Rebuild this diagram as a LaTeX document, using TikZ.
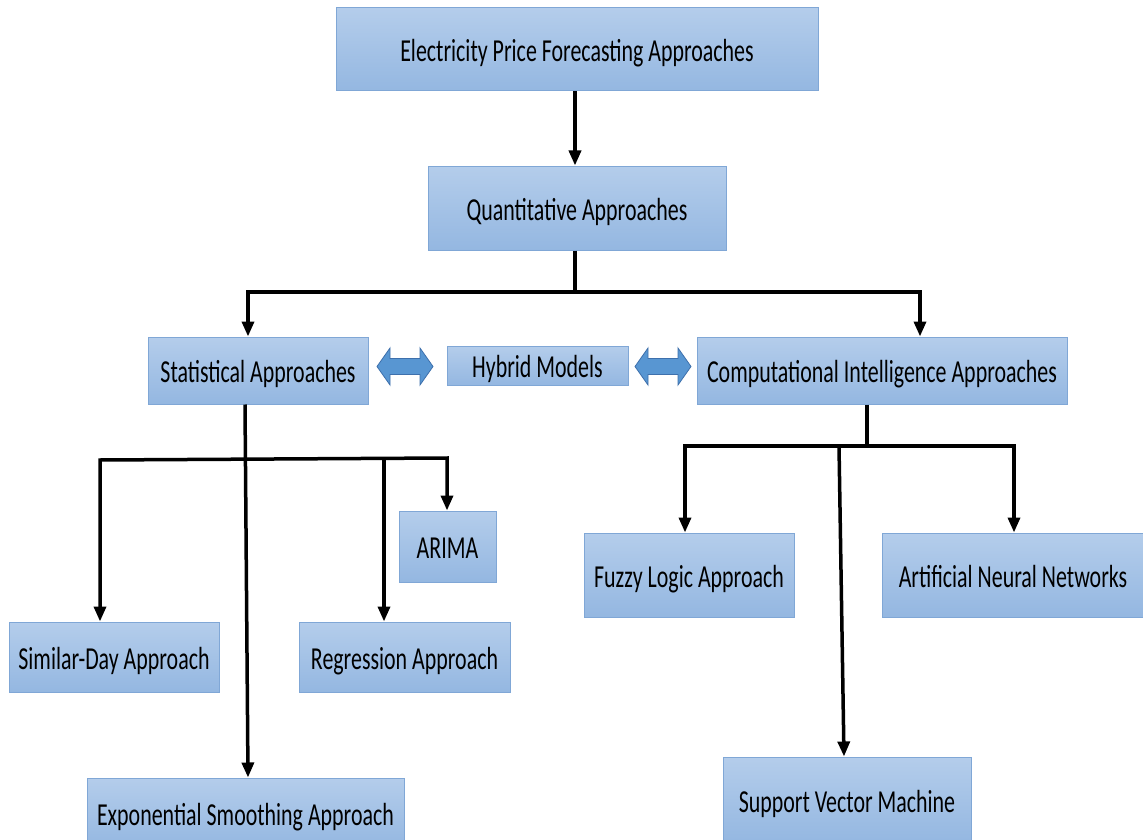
\documentclass[tikz,border=0pt]{standalone}
\usepackage{fontspec}
\setmainfont[FakeStretch=0.685]{Carlito}
\usetikzlibrary{arrows.meta}
\definecolor{boxtop}{RGB}{180,205,235}
\definecolor{boxbot}{RGB}{148,183,225}
\definecolor{boxline}{RGB}{128,167,214}
\definecolor{dblfill}{RGB}{88,150,210}
\definecolor{dblline}{RGB}{62,112,172}
\begin{document}
\begin{tikzpicture}[x=1pt,y=-1pt,
  box/.style={draw=boxline, line width=1pt, top color=boxtop, bottom color=boxbot,
    inner sep=0pt, text height=24pt, text depth=0pt,
    font=\fontsize{32}{38}\selectfont, text=black},
  tip/.tip={Triangle[length=15pt,width=12pt]},
  link/.style={line width=3.5pt, -tip},
  tree/.style={line width=3.5pt, tip-tip, line join=miter},
  dblarrow/.style={fill=dblfill, draw=dblline, line width=0.8pt, line join=miter}]

% page frame
\fill[white] (0,0) rectangle (1143,840);
\clip (0,0) rectangle (1143,840);

% boxes
\node[box, minimum width=482pt, minimum height=83pt] (epf)   at (577,49.5)  {Electricity Price Forecasting Approaches};
\node[box, minimum width=298pt, minimum height=84pt] (quant) at (577,208)   {Quantitative Approaches};
\node[box, minimum width=220pt, minimum height=67pt] (stat)  at (258,370.5) {Statistical Approaches};
\node[box, minimum width=181pt, minimum height=39pt] (hyb)   at (537.5,365.5) {Hybrid Models};
\node[box, minimum width=370pt, minimum height=67pt] (ci)    at (882,370.5) {Computational Intelligence Approaches};
\node[box, minimum width=97pt,  minimum height=71pt] (arima) at (447.5,546.5) {ARIMA};
\node[box, minimum width=210pt, minimum height=70pt] (sim)   at (114,657)   {Similar-Day Approach};
\node[box, minimum width=211pt, minimum height=70pt] (reg)   at (404.5,657) {Regression Approach};
\node[box, minimum width=317pt, minimum height=70pt] (exp)   at (245.5,813) {Exponential Smoothing Approach};
\node[box, minimum width=210pt, minimum height=84pt] (fuzzy) at (689,575)   {Fuzzy Logic Approach};
\node[box, minimum width=262pt, minimum height=84pt] (ann)   at (1013,575)  {Artificial Neural Networks};
\node[box, minimum width=248pt, minimum height=86pt] (svm)   at (847,800)   {Support Vector Machine};

% top level
\draw[link] ([xshift=-2pt]epf.south) -- ([xshift=-2pt]quant.north);

% quantitative split
\coordinate (qL) at (248,292);
\coordinate (qR) at (920,292);
\draw[line width=3.5pt] ([xshift=-2pt]quant.south) -- ([xshift=-2pt]quant.south |- qL);
\draw[tree] (qL |- stat.north) -- (qL) -- (qR) -- (qR |- ci.north);

% statistical branch
\coordinate (sL) at (100,460);
\coordinate (sR) at (447,458);
\coordinate (sM) at (384,460);
\draw[link] ([xshift=-13pt]stat.south) -- ([xshift=2.5pt]exp.north);
\draw[tree] (sL |- sim.north) -- (sL) -- (sR) -- (sR |- arima.north);
\draw[link] (sM) -- (sM |- reg.north);

% computational intelligence branch
\coordinate (cJ) at (867,446);
\coordinate (cL) at (685,446);
\coordinate (cR) at (1014,446);
\coordinate (cS) at (839,446);
\draw[line width=3.5pt] ([xshift=-15pt]ci.south) -- (cJ);
\draw[tree] (cL |- fuzzy.north) -- (cL) -- (cR) -- (cR |- ann.north);
\draw[link] (cS) -- ([xshift=-3pt]svm.north);

% two-way arrows beside the hybrid box
\foreach \x in {377,635} {
  \draw[dblarrow, shift={(\x,0)}]
    (0,366.5) -- (13,348) -- (13,358.5) -- (43,358.5) -- (43,348) -- (56,366.5)
    -- (43,385) -- (43,374.5) -- (13,374.5) -- (13,385) -- cycle;
}
\end{tikzpicture}
\end{document}
